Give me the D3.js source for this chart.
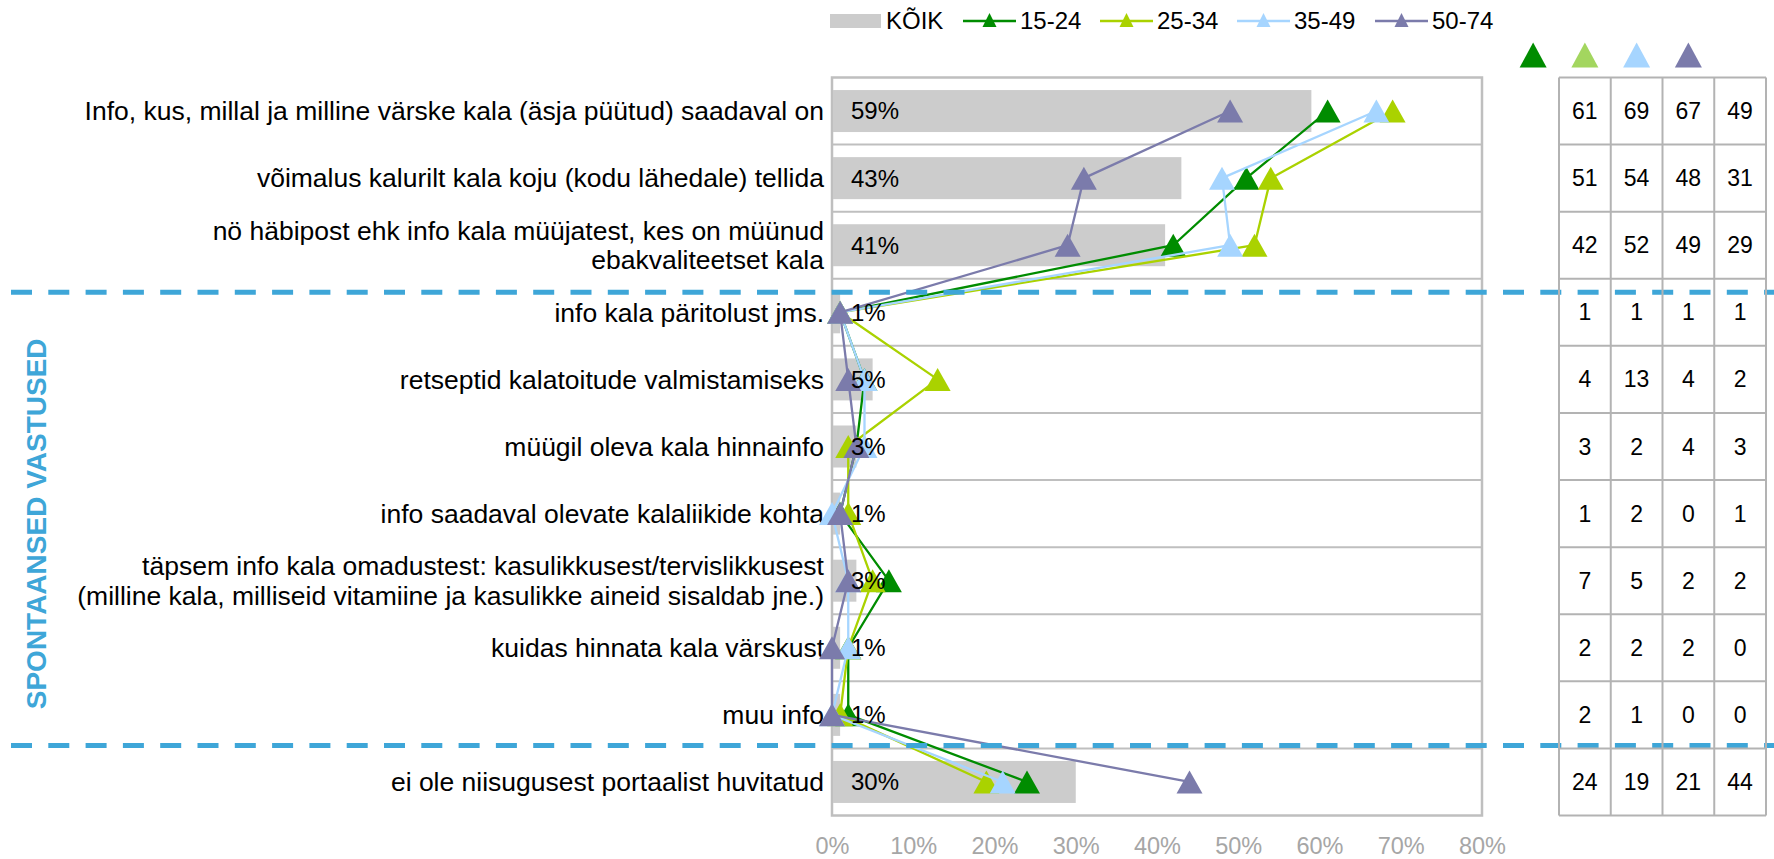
<!DOCTYPE html>
<html>
<head>
<meta charset="utf-8">
<script src="https://cdn.jsdelivr.net/npm/d3@7"></script>
<style>
  html, body { margin: 0; padding: 0; background: #fff; }
  svg { display: block; font-family: "Liberation Sans", Arial, sans-serif; }
</style>
</head>
<body>
<svg id="chart" width="1774" height="859"></svg>
<script>
const categories = [
  ["Info, kus, millal ja milline värske kala (äsja püütud) saadaval on"],
  ["võimalus kalurilt kala koju (kodu lähedale) tellida"],
  ["nö häbipost ehk info kala müüjatest, kes on müünud", "ebakvaliteetset kala"],
  ["info kala päritolust jms."],
  ["retseptid kalatoitude valmistamiseks"],
  ["müügil oleva kala hinnainfo"],
  ["info saadaval olevate kalaliikide kohta"],
  ["täpsem info kala omadustest: kasulikkusest/tervislikkusest", "(milline kala, milliseid vitamiine ja kasulikke aineid sisaldab jne.)"],
  ["kuidas hinnata kala värskust"],
  ["muu info"],
  ["ei ole niisugusest portaalist huvitatud"]
];
const koik   = [59, 43, 41, 1, 5, 3, 1, 3, 1, 1, 30];
const g1524  = [61, 51, 42, 1, 4, 3, 1, 7, 2, 2, 24];
const g2534  = [69, 54, 52, 1, 13, 2, 2, 5, 2, 1, 19];
const g3549  = [67, 48, 49, 1, 4, 4, 0, 2, 2, 0, 21];
const g5074  = [49, 31, 29, 1, 2, 3, 1, 2, 0, 0, 44];
const seriesNames = ["15-24", "25-34", "35-49", "50-74"];
const xTicks = [0, 10, 20, 30, 40, 50, 60, 70, 80];
const sideTitle = "SPONTAANSED VASTUSED";

const series = [
  {name: seriesNames[0], values: g1524, color: "#008c00", head: "#008c00"},
  {name: seriesNames[1], values: g2534, color: "#aad200", head: "#a3d65f"},
  {name: seriesNames[2], values: g3549, color: "#a6d5ff", head: "#a6d5ff"},
  {name: seriesNames[3], values: g5074, color: "#7b7bab", head: "#7b7bab"}
];

const svg = d3.select("#chart");
const idx = d3.range(categories.length);
const x = d3.scaleLinear().domain([0, 80]).range([832, 1482]);
const y = d3.scaleBand().domain(idx).range([77.5, 815.5]).padding(0);
const bw = y.bandwidth();
const cy = i => y(i) + bw / 2;
const gridColor = "#bfbfbf";
const blue = "#3ea6d8";

function tri(w, h) {
  return `M0,${-h * 0.5}L${w / 2},${h * 0.5}L${-w / 2},${h * 0.5}Z`;
}

// plot background row separators and frame
svg.append("g").selectAll("line").data(idx.slice(1)).join("line")
  .attr("x1", x(0)).attr("x2", x(80))
  .attr("y1", d => y(d)).attr("y2", d => y(d))
  .attr("stroke", gridColor).attr("stroke-width", 2);
svg.append("rect")
  .attr("x", x(0)).attr("y", y(0)).attr("width", x(80) - x(0)).attr("height", bw * categories.length)
  .attr("fill", "none").attr("stroke", gridColor).attr("stroke-width", 2.5);

// bars
svg.append("g").selectAll("rect").data(idx).join("rect")
  .attr("x", x(0) + 1).attr("y", d => cy(d) - 21)
  .attr("width", d => Math.max(0, x(koik[d]) - x(0) - 1)).attr("height", 42)
  .attr("fill", "#cccccc");

// category labels
const lab = svg.append("g").attr("font-size", 26.5).attr("fill", "#000").attr("text-anchor", "end");
idx.forEach(i => {
  const lines = categories[i];
  const lh = 29.5;
  lines.forEach((t, k) => {
    lab.append("text")
      .attr("x", 824)
      .attr("y", cy(i) + (k - (lines.length - 1) / 2) * lh)
      .attr("dy", "0.35em")
      .text(t);
  });
});

// x axis
const xAxis = d3.axisBottom(x).tickValues(xTicks).tickFormat(d => d + "%").tickSize(0).tickPadding(0);
const ax = svg.append("g").attr("transform", `translate(0,838)`).call(xAxis);
ax.select(".domain").remove();
ax.selectAll("text").attr("font-size", 23.5).attr("fill", "#a6a6a6")
  .attr("font-family", "Liberation Sans, Arial, sans-serif").attr("dy", "0.35em").attr("y", 8);

// lines and markers
const lineGen = d3.line().x(d => x(d[0])).y(d => cy(d[1]));
series.forEach(s => {
  const g = svg.append("g");
  g.append("path").datum(s.values.map((v, i) => [v, i]))
    .attr("d", lineGen).attr("fill", "none")
    .attr("stroke", s.color).attr("stroke-width", 2.3).attr("stroke-linejoin", "round");
  g.selectAll("path.m").data(s.values).join("path").attr("class", "m")
    .attr("transform", (v, i) => `translate(${x(v)},${cy(i)})`)
    .attr("d", tri(26, 23)).attr("fill", s.color);
});

// bar value labels
svg.append("g").selectAll("text").data(idx).join("text")
  .attr("x", 851).attr("y", d => cy(d)).attr("dy", "0.35em")
  .attr("font-size", 24).attr("fill", "#000")
  .text(d => koik[d] + "%");

// dashed separator lines
const dashY = [y(3) + 13.5, y(10) - 3];
svg.append("g").selectAll("line").data(dashY).join("line")
  .attr("x1", 11).attr("x2", 1774).attr("y1", d => d).attr("y2", d => d)
  .attr("stroke", blue).attr("stroke-width", 5).attr("stroke-dasharray", "21,16.3");

// side title
svg.append("text")
  .attr("transform", `translate(36,${(dashY[0] + dashY[1]) / 2 + 5}) rotate(-90)`)
  .attr("text-anchor", "middle").attr("dy", "0.35em")
  .attr("font-size", 28).attr("font-weight", "bold").attr("fill", blue)
  .text(sideTitle);

// table on the right
const col = d3.scaleBand().domain(seriesNames).range([1559, 1766]);
const cw = col.bandwidth();
const tg = svg.append("g");
series.forEach(s => {
  tg.selectAll(null).data(s.values).join("text")
    .attr("x", col(s.name) + cw / 2).attr("y", (v, i) => cy(i)).attr("dy", "0.35em")
    .attr("text-anchor", "middle").attr("font-size", 23).attr("fill", "#000")
    .text(v => v);
  tg.append("path")
    .attr("transform", `translate(${col(s.name) + cw / 2 - cw},55)`)
    .attr("d", tri(27, 25)).attr("fill", s.head);
});
tg.selectAll("line.v").data(d3.range(5)).join("line").attr("class", "v")
  .attr("x1", d => 1559 + d * cw).attr("x2", d => 1559 + d * cw)
  .attr("y1", y(0)).attr("y2", y(0) + bw * categories.length)
  .attr("stroke", "#b3b3b3").attr("stroke-width", 2);
tg.selectAll("line.h").data(d3.range(categories.length + 1)).join("line").attr("class", "h")
  .attr("x1", 1559).attr("x2", 1766)
  .attr("y1", d => y(0) + d * bw).attr("y2", d => y(0) + d * bw)
  .attr("stroke", "#b3b3b3").attr("stroke-width", 2);

// legend
const lg = svg.append("g").attr("font-size", 24);
lg.append("rect").attr("x", 830).attr("y", 14).attr("width", 51).attr("height", 14).attr("fill", "#cccccc");
lg.append("text").attr("x", 886).attr("y", 21).attr("dy", "0.35em").text("KÕIK");
const legX = [963, 1100, 1237, 1375];
series.forEach((s, k) => {
  const lx = legX[k];
  lg.append("line").attr("x1", lx).attr("x2", lx + 53).attr("y1", 21).attr("y2", 21)
    .attr("stroke", s.color).attr("stroke-width", 2.3);
  lg.append("path").attr("transform", `translate(${lx + 26.5},20)`).attr("d", tri(14, 14)).attr("fill", s.color);
  lg.append("text").attr("x", lx + 57).attr("y", 21).attr("dy", "0.35em").text(s.name);
});
</script>
</body>
</html>
